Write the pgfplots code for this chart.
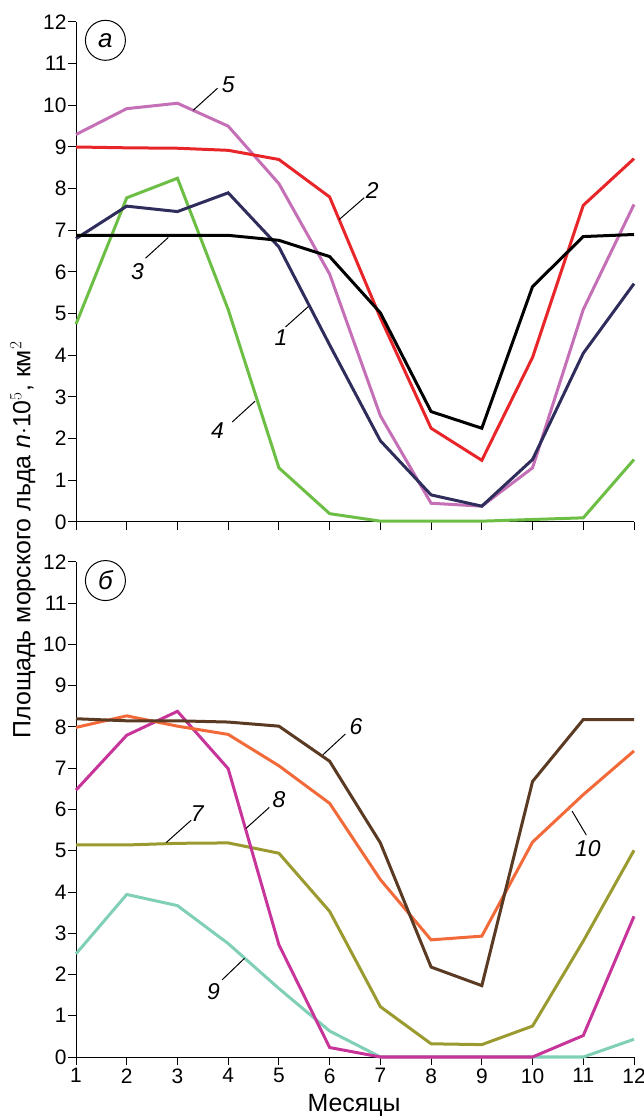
\documentclass[border=0pt]{standalone}
\usepackage{pgfplots}
\pgfplotsset{compat=1.18}
\usepackage{fontspec}
\setmainfont{Liberation Sans}
\definecolor{cnavy}{HTML}{2E2D5C}
\definecolor{cred}{HTML}{E8262A}
\definecolor{cgreen}{HTML}{6DBE45}
\definecolor{cpink}{HTML}{C46FB6}
\definecolor{cbrown}{HTML}{5A3A22}
\definecolor{corange}{HTML}{F26A3A}
\definecolor{cmag}{HTML}{C8359A}
\definecolor{colive}{HTML}{9A9A30}
\definecolor{cteal}{HTML}{80D0B8}
\pgfplotsset{
  base/.style={scale only axis, width=558bp, height=500bp,
    xmin=1, xmax=12, ymin=0, ymax=12,
    axis x line*=bottom, axis y line*=left,
    xtick={1,...,12}, ytick={0,...,12},
    tick align=outside, major tick length=8bp,
    tick style={black, line width=1pt}, axis line style={line width=1pt},
    /pgf/number format/assume math mode=true,
    tick label style={font=\fontsize{21}{22}\selectfont},
    yticklabel style={xshift=2bp},
    clip=false},
  every axis plot/.append style={line width=3bp, no marks},
}
\begin{document}
\begin{tikzpicture}
\useasboundingbox (-76bp,-63bp) rectangle (568bp,1057bp);
\tikzset{lb/.style={font=\fontsize{23}{23}\selectfont\itshape}, ll/.style={line width=1pt}}
\begin{axis}[base, at={(0,535bp)}, xticklabels={}]
\addplot[cgreen] coordinates {(1,4.75)(2,7.78)(3,8.25)(4,5.1)(5,1.3)(6,0.2)(7,0.02)(8,0.02)(9,0.02)(10,0.06)(11,0.1)(12,1.5)};
\addplot[cpink] coordinates {(1,9.3)(2,9.92)(3,10.05)(4,9.5)(5,8.12)(6,5.95)(7,2.55)(8,0.45)(9,0.38)(10,1.3)(11,5.1)(12,7.62)};
\addplot[cred] coordinates {(1,9.0)(2,8.98)(3,8.97)(4,8.92)(5,8.7)(6,7.8)(7,4.9)(8,2.25)(9,1.48)(10,3.95)(11,7.6)(12,8.72)};
\addplot[cnavy] coordinates {(1,6.8)(2,7.58)(3,7.45)(4,7.9)(5,6.6)(6,4.25)(7,1.95)(8,0.65)(9,0.38)(10,1.5)(11,4.05)(12,5.72)};
\addplot[black] coordinates {(1,6.88)(2,6.88)(3,6.88)(4,6.88)(5,6.76)(6,6.37)(7,5.02)(8,2.65)(9,2.25)(10,5.65)(11,6.85)(12,6.9)};
\draw[line width=1pt] (axis cs:1.58,11.56) circle[radius=20bp];
\node[font=\fontsize{26}{26}\selectfont\itshape] at (axis cs:1.58,11.56) {а};
\draw[ll] (axis cs:3.31,9.88)--(axis cs:3.79,10.41); \node[lb] at (axis cs:4.0,10.49) {5};
\draw[ll] (axis cs:6.19,7.26)--(axis cs:6.68,7.78); \node[lb] at (axis cs:6.84,7.95) {2};
\draw[ll] (axis cs:2.37,6.33)--(axis cs:2.82,6.83); \node[lb] at (axis cs:2.21,6.0) {3};
\draw[ll] (axis cs:5.13,4.68)--(axis cs:5.58,5.17); \node[lb] at (axis cs:5.04,4.43) {1};
\draw[ll] (axis cs:4.08,2.4)--(axis cs:4.53,2.9); \node[lb] at (axis cs:3.79,2.19) {4};
\end{axis}
\begin{axis}[base, height=495bp, at={(0,0)}]
\addplot[cteal] coordinates {(1,2.5)(2,3.94)(3,3.67)(4,2.75)(5,1.66)(6,0.63)(7,0)(8,0)(9,0)(10,0)(11,0)(12,0.43)};
\addplot[colive] coordinates {(1,5.14)(2,5.14)(3,5.18)(4,5.19)(5,4.94)(6,3.53)(7,1.22)(8,0.32)(9,0.3)(10,0.75)(11,2.81)(12,5.01)};
\addplot[cmag] coordinates {(1,6.47)(2,7.8)(3,8.38)(4,6.99)(5,2.72)(6,0.23)(7,0)(8,0)(9,0)(10,0)(11,0.52)(12,3.41)};
\addplot[corange] coordinates {(1,7.99)(2,8.27)(3,8.02)(4,7.82)(5,7.06)(6,6.15)(7,4.3)(8,2.84)(9,2.93)(10,5.21)(11,6.36)(12,7.42)};
\addplot[cbrown] coordinates {(1,8.2)(2,8.15)(3,8.15)(4,8.12)(5,8.02)(6,7.17)(7,5.19)(8,2.18)(9,1.73)(10,6.68)(11,8.18)(12,8.18)};
\draw[line width=1pt] (axis cs:1.58,11.55) circle[radius=20bp];
\node[font=\fontsize{26}{26}\selectfont\itshape] at (axis cs:1.58,11.55) {б};
\draw[ll] (axis cs:5.87,7.33)--(axis cs:6.31,7.83); \node[lb] at (axis cs:6.52,8.0) {6};
\draw[ll] (axis cs:2.78,5.2)--(axis cs:3.27,5.74); \node[lb] at (axis cs:3.39,5.9) {7};
\draw[ll] (axis cs:4.35,5.54)--(axis cs:4.81,6.05); \node[lb] at (axis cs:5.0,6.23) {8};
\draw[ll] (axis cs:3.88,1.87)--(axis cs:4.32,2.39); \node[lb] at (axis cs:3.71,1.58) {9};
\draw[ll] (axis cs:10.78,5.96)--(axis cs:11.06,5.38); \node[lb] at (axis cs:11.09,5.06) {10};
\end{axis}
\node[font=\fontsize{25}{25}\selectfont] at (278bp,-48bp) {Месяцы};
\node[rotate=90, font=\fontsize{25}{25}\selectfont] at (-53bp,517bp) {Площадь морского льда \textit{n}$\cdot$10$^5$, км$^2$};
\end{tikzpicture}
\end{document}
